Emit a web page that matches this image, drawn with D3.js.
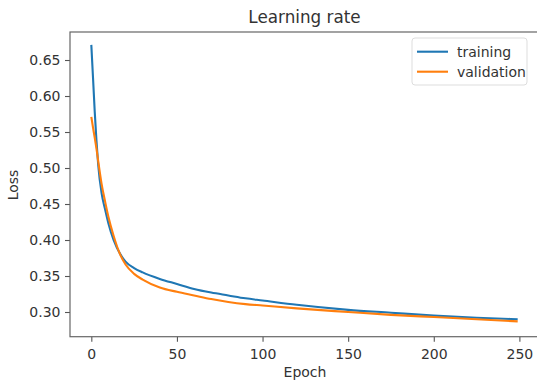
<!DOCTYPE html>
<html>
<head>
<meta charset="utf-8">
<script src="https://cdn.jsdelivr.net/npm/d3@7"></script>
<style>
  body { margin: 0; background: #fff; }
  text { font-family: "DejaVu Sans", sans-serif; fill: #333; }
</style>
</head>
<body>
<div id="chart"></div>
<script>
// values
const trainEpochs = [0, 1, 2, 3, 4, 6, 8, 10, 13, 17, 20, 25, 30, 40, 50, 60, 70, 80, 90, 100, 120, 150, 175, 200, 225, 249]
const trainLoss   = [0.671, 0.625, 0.578, 0.538, 0.505, 0.465, 0.443, 0.423, 0.400, 0.380, 0.370, 0.361, 0.355, 0.346, 0.339, 0.332, 0.327, 0.323, 0.319, 0.316, 0.310, 0.303, 0.299, 0.295, 0.292, 0.290]
const valEpochs   = [0, 1, 2, 3, 4, 6, 8, 10, 13, 17, 20, 25, 30, 40, 50, 60, 70, 80, 90, 100, 120, 150, 175, 200, 225, 249]
const valLoss     = [0.571, 0.556, 0.542, 0.527, 0.510, 0.478, 0.454, 0.432, 0.406, 0.379, 0.366, 0.353, 0.345, 0.334, 0.328, 0.323, 0.318, 0.314, 0.311, 0.309, 0.305, 0.300, 0.296, 0.293, 0.290, 0.287]
const xTicks = [0, 50, 100, 150, 200, 250]
const yTicks = [0.30, 0.35, 0.40, 0.45, 0.50, 0.55, 0.60, 0.65]
const seriesNames = ["training", "validation"]
const seriesColors = ["#1f77b4", "#ff7f0e"]

const width = 537
const height = 383
const plot = {left: 70, right: 539, top: 32, bottom: 336.7}

const svg = d3.select("#chart").append("svg")
  .attr("width", width)
  .attr("height", height)

const x = d3.scaleLinear().domain([-12.45, 261.45]).range([plot.left, plot.right])
const y = d3.scaleLinear().domain([0.2657, 0.6889]).range([plot.bottom, plot.top])

// axes
const xAxis = svg.append("g")
  .attr("transform", `translate(0, ${plot.bottom})`)
  .call(d3.axisBottom(x).tickValues(xTicks).tickSize(5).tickPadding(7).tickFormat(d3.format("d")))
const yAxis = svg.append("g")
  .attr("transform", `translate(${plot.left}, 0)`)
  .call(d3.axisLeft(y).tickValues(yTicks).tickSize(5).tickPadding(4.5).tickFormat(d3.format(".2f")))

for (const ax of [xAxis, yAxis]) {
  ax.select(".domain").remove()
  ax.selectAll(".tick line").attr("stroke", "#555").attr("stroke-width", 1.1)
  ax.selectAll(".tick text").style("font-size", "14px").attr("fill", "#3a3a3a")
}

// spines (right one falls outside the picture)
svg.append("rect")
  .attr("x", plot.left)
  .attr("y", plot.top)
  .attr("width", plot.right - plot.left)
  .attr("height", plot.bottom - plot.top)
  .attr("fill", "none")
  .attr("stroke", "#666")
  .attr("stroke-width", 1.2)

// lines
const line = d3.line()
  .x(d => x(d[0]))
  .y(d => y(d[1]))
  .curve(d3.curveMonotoneX)

const series = [
  d3.zip(trainEpochs, trainLoss),
  d3.zip(valEpochs, valLoss)
]

series.forEach((pts, i) => {
  svg.append("path")
    .datum(pts)
    .attr("fill", "none")
    .attr("stroke", seriesColors[i])
    .attr("stroke-width", 2.1)
    .attr("stroke-linejoin", "round")
    .attr("d", line)
})

// title and labels
svg.append("text")
  .attr("x", (plot.left + plot.right) / 2)
  .attr("y", 23)
  .attr("text-anchor", "middle")
  .style("font-size", "16.8px")
  .text("Learning rate")

svg.append("text")
  .attr("x", 305)
  .attr("y", 377)
  .attr("text-anchor", "middle")
  .style("font-size", "14px")
  .text("Epoch")

svg.append("text")
  .attr("transform", "translate(18, 185) rotate(-90)")
  .attr("text-anchor", "middle")
  .style("font-size", "14px")
  .text("Loss")

// legend
const legend = svg.append("g")
legend.append("rect")
  .attr("x", 412)
  .attr("y", 38)
  .attr("width", 115)
  .attr("height", 47)
  .attr("rx", 3)
  .attr("fill", "#fff")
  .attr("fill-opacity", 0.8)
  .attr("stroke", "#ddd")

seriesNames.forEach((name, i) => {
  const ly = 51.7 + i * 20
  legend.append("line")
    .attr("x1", 417).attr("x2", 448)
    .attr("y1", ly).attr("y2", ly)
    .attr("stroke", seriesColors[i])
    .attr("stroke-width", 2.1)
  legend.append("text")
    .attr("x", 457)
    .attr("y", ly + 5)
    .style("font-size", "14px")
    .text(name)
})
</script>
</body>
</html>
